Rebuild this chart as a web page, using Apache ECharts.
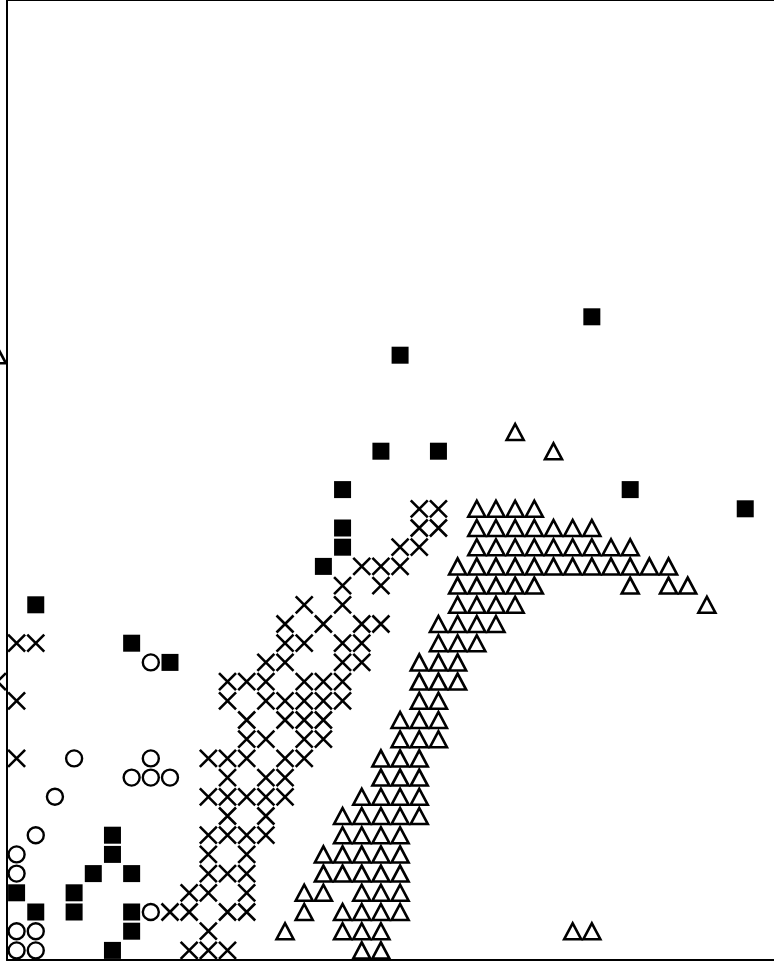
<!DOCTYPE html>
<html>
<head>
<meta charset="utf-8">
<script src="https://cdn.jsdelivr.net/npm/echarts@6/dist/echarts.min.js"></script>
<style>html,body{margin:0;padding:0;background:#fff}#c{width:774px;height:961px}</style>
</head>
<body>
<div id="c"></div>
<script>
var squares = [[2,19],[7,17],[9,16],[6,7],[6,6],[5,5],[7,5],[1,4],[4,4],[2,3],[4,3],[7,3],[7,2],[6,1],
  [17,21],[18,22],[18,23],[18,25],[20,27],[23,27],[21,32],[31,34],[33,25],[39,24]];

var circles = [[8,16],[4,11],[8,11],[7,10],[8,10],[9,10],[3,9],[2,7],[1,6],[1,5],[8,3],[1,2],[2,2],[1,1],[2,1]];

var crosses = [[22,24],[23,24],[22,23],[23,23],[21,22],[22,22],[19,21],[20,21],[21,21],[18,20],[20,20],
  [16,19],[18,19],[15,18],[17,18],[19,18],[20,18],[1,17],[2,17],[15,17],[16,17],[18,17],[19,17],
  [14,16],[15,16],[18,16],[19,16],[0,15],[12,15],[13,15],[14,15],[16,15],[17,15],[18,15],
  [1,14],[12,14],[14,14],[15,14],[16,14],[17,14],[18,14],[13,13],[15,13],[16,13],[17,13],
  [13,12],[14,12],[16,12],[17,12],[1,11],[11,11],[12,11],[13,11],[15,11],[16,11],
  [12,10],[14,10],[15,10],[11,9],[12,9],[13,9],[14,9],[15,9],[12,8],[14,8],
  [11,7],[12,7],[13,7],[14,7],[11,6],[13,6],[11,5],[12,5],[13,5],[10,4],[11,4],[13,4],
  [9,3],[10,3],[12,3],[13,3],[11,2],[10,1],[11,1],[12,1]];

var triangles = [[0,32],[27,28],[29,27],
  [25,24],[26,24],[27,24],[28,24],
  [25,23],[26,23],[27,23],[28,23],[29,23],[30,23],[31,23],
  [25,22],[26,22],[27,22],[28,22],[29,22],[30,22],[31,22],[32,22],[33,22],
  [24,21],[25,21],[26,21],[27,21],[28,21],[29,21],[30,21],[31,21],[32,21],[33,21],[34,21],[35,21],
  [24,20],[25,20],[26,20],[27,20],[28,20],[33,20],[35,20],[36,20],
  [24,19],[25,19],[26,19],[27,19],[37,19],
  [23,18],[24,18],[25,18],[26,18],
  [23,17],[24,17],[25,17],
  [22,16],[23,16],[24,16],
  [22,15],[23,15],[24,15],
  [22,14],[23,14],
  [21,13],[22,13],[23,13],
  [21,12],[22,12],[23,12],
  [20,11],[21,11],[22,11],
  [20,10],[21,10],[22,10],
  [19,9],[20,9],[21,9],[22,9],
  [18,8],[19,8],[20,8],[21,8],[22,8],
  [18,7],[19,7],[20,7],[21,7],
  [17,6],[18,6],[19,6],[20,6],[21,6],
  [17,5],[18,5],[19,5],[20,5],[21,5],
  [16,4],[17,4],[19,4],[20,4],[21,4],
  [16,3],[18,3],[19,3],[20,3],[21,3],
  [15,2],[18,2],[19,2],[20,2],[30,2],[31,2],
  [19,1],[20,1]];

var chart = echarts.init(document.getElementById('c'), null, {renderer: 'canvas'});
var hiddenAxis = {axisTick:{show:false}, axisLabel:{show:false}, splitLine:{show:false}};
chart.setOption({
  animation: false,
  backgroundColor: '#fff',
  grid: {left: 7, right: 0, top: 0, bottom: 1, containLabel: false},
  xAxis: [
    Object.assign({type:'value', min:0.5, max:40.5, position:'bottom', axisLine:{show:true, lineStyle:{color:'#000', width:2}}}, hiddenAxis),
    Object.assign({type:'value', min:0.5, max:40.5, position:'top', axisLine:{show:true, lineStyle:{color:'#000', width:2}}}, hiddenAxis)
  ],
  yAxis: [
    Object.assign({type:'value', min:0.5, max:50.5, position:'left', axisLine:{show:true, lineStyle:{color:'#000', width:2}}}, hiddenAxis),
    Object.assign({type:'value', min:0.5, max:50.5, position:'right', axisLine:{show:true, lineStyle:{color:'#e0e0e0', width:1}}}, hiddenAxis)
  ],
  series: [
    {type:'scatter', data: crosses, clip:false, symbol:'path://M0,0L10,10M10,0L0,10', symbolSize:17,
      itemStyle:{color:'rgba(0,0,0,0)', borderColor:'#000', borderWidth:2.6, opacity:1}, silent:true},
    {type:'scatter', data: triangles, clip:false, symbol:'triangle', symbolSize:[17,16],
      itemStyle:{color:'#fff', borderColor:'#000', borderWidth:2.6, opacity:1}, silent:true},
    {type:'scatter', data: circles, clip:false, symbol:'circle', symbolSize:16,
      itemStyle:{color:'#fff', borderColor:'#000', borderWidth:2.4, opacity:1}, silent:true},
    {type:'scatter', data: squares, clip:false, symbol:'rect', symbolSize:17,
      itemStyle:{color:'#000', opacity:1}, silent:true}
  ]
});
</script>
</body>
</html>
